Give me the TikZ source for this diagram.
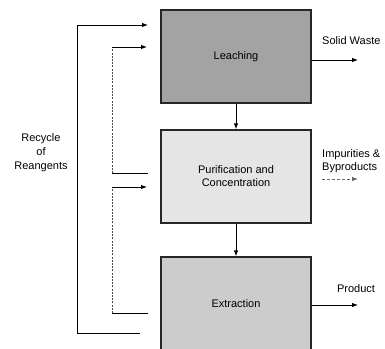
\documentclass[tikz,border=0pt]{standalone}
\usepackage{fontspec}
\setmainfont{Liberation Sans}
\usepackage{tikz}
\usetikzlibrary{arrows.meta}
\definecolor{leachgray}{rgb}{0.64,0.64,0.64}
\definecolor{purigray}{rgb}{0.90,0.90,0.90}
\definecolor{extrgray}{rgb}{0.80,0.80,0.80}

\begin{document}
\begin{tikzpicture}[x=1pt, y=-1pt,
    font=\fontsize{11}{13}\selectfont,
    stage/.style={draw=black!85, line width=1.3pt, minimum width=150pt, minimum height=93pt, align=center, inner sep=0pt},
    flow/.style={line width=0.9pt, -{Latex[length=6pt, width=4.5pt]}},
    link/.style={line width=0.9pt},
    back/.style={line width=0.7pt, black!70, dash pattern=on 2pt off 1.2pt}]
        \clip (0,0) rectangle (385,348);

        % Stages
        \node[stage, fill=leachgray] (leach) at (236,56.5) {Leaching};
        \node[stage, fill=purigray] (puri) at (236,176.5) {Purification and\\Concentration};
        \node[stage, fill=extrgray] (extr) at (236,303.5) {Extraction};

        % Main flow
        \draw[flow] (leach) -- (puri);
        \draw[flow] (puri) -- (extr);

        % Outputs
        \coordinate (wasteend) at (358,60);
        \coordinate (impstart) at (322,179);
        \coordinate (impend) at (358,179);
        \coordinate (prodend) at (358,305);
        \draw[flow] (leach.east |- wasteend) -- (wasteend);
        \draw[flow, densely dashed, black!60] (impstart) -- (impend);
        \draw[flow] (extr.east |- prodend) -- (prodend);
        \node[anchor=south west, inner sep=0pt] (waste) at (322,45) {Solid Waste};
        \node[anchor=west, align=left, inner sep=0pt] (imp) at (322,161.5) {Impurities \&\\Byproducts};
        \node[inner sep=0pt] (prod) at (356,289) {Product};

        % Recycle of reagents (outer loop)
        \coordinate (outstart) at (140,333);
        \coordinate (outcorner) at (77,333);
        \coordinate (outtop) at (77,25);
        \coordinate (outend) at (148,25);
        \draw[link] (outstart) -- (outcorner) -- (outtop);
        \draw[flow] (outtop) -- (outend);
        \node[align=center, inner sep=0pt, font=\fontsize{11}{14}\selectfont] (recycle) at (41,153) {Recycle\\of\\Reangents};

        % Inner loops
        \coordinate (pout) at (148,173);
        \coordinate (pcorner) at (112,173);
        \coordinate (ltop) at (112,47);
        \coordinate (lend) at (147,47);
        \draw[link] (pout) -- (pcorner);
        \draw[back] (pcorner) -- (ltop);
        \draw[flow] (ltop) -- (lend);

        \coordinate (eout) at (148,313);
        \coordinate (ecorner) at (112,313);
        \coordinate (ptop) at (112,187);
        \coordinate (pend) at (147,187);
        \draw[link] (eout) -- (ecorner);
        \draw[back] (ecorner) -- (ptop);
        \draw[flow] (ptop) -- (pend);
    \end{tikzpicture}
\end{document}
